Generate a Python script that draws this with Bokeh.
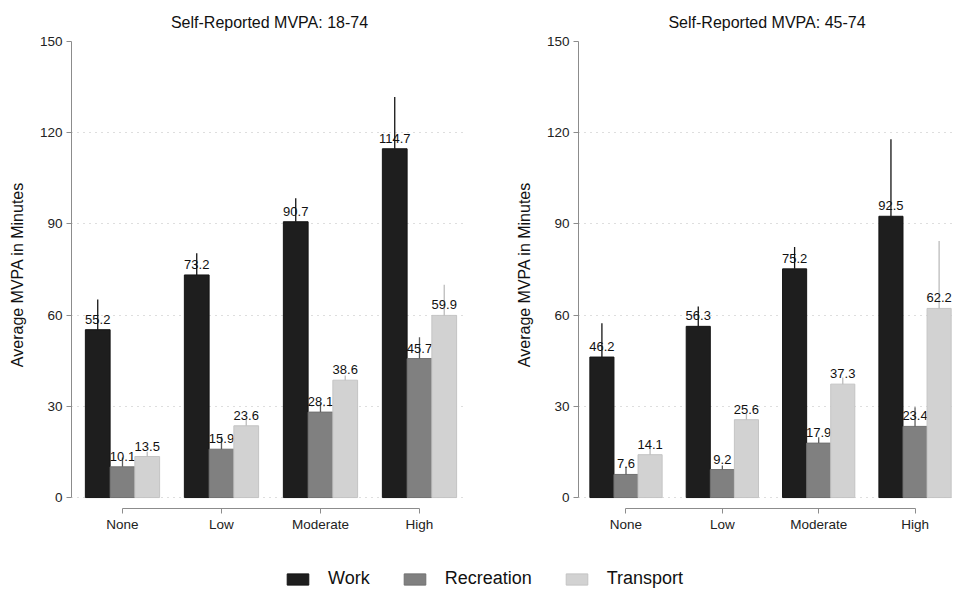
from bokeh.plotting import figure
from bokeh.models import FixedTicker, Range1d, Legend, LegendItem, ColumnDataSource
from bokeh.layouts import column, row
from bokeh.embed import file_html
from bokeh.resources import INLINE

FONT = "Liberation Sans"

categories = ["None", "Low", "Moderate", "High"]
series = ["Work", "Recreation", "Transport"]
fill_colors = ["#1e1e1e", "#808080", "#d2d2d2"]
line_colors = ["#141414", "#707070", "#c4c4c4"]
err_colors = ["#141414", "#5e5e5e", "#bcbcbc"]
y_ticks = [0, 30, 60, 90, 120, 150]

# Panel 1: 18-74
work_1874 = [55.2, 73.2, 90.7, 114.7]
rec_1874 = [10.1, 15.9, 28.1, 45.7]
trans_1874 = [13.5, 23.6, 38.6, 59.9]
work_1874_upper = [65.1, 80.3, 98.4, 131.7]
rec_1874_upper = [13.2, 20.1, 31.0, 52.7]
trans_1874_upper = [15.1, 26.0, 40.1, 70.0]

# Panel 2: 45-74
work_4574 = [46.2, 56.3, 75.2, 92.5]
rec_4574 = [7.6, 9.2, 17.9, 23.4]
trans_4574 = [14.1, 25.6, 37.3, 62.2]
work_4574_upper = [57.3, 62.8, 82.4, 117.8]
rec_4574_upper = [10.0, 10.5, 19.8, 29.7]
trans_4574_upper = [16.1, 27.6, 39.5, 84.4]

offsets = [-0.25, 0.0, 0.25]
bar_w = 0.25


def make_panel(title, vals, uppers, x_start, x_end, width, mbl, mbr):
    p = figure(width=width, height=545, output_backend="svg", toolbar_location=None,
               x_range=Range1d(x_start, x_end), y_range=Range1d(-3.6, 150.3),
               min_border_left=mbl, min_border_right=mbr, min_border_top=40,
               min_border_bottom=37, title=title)
    p.title.text_font = FONT
    p.title.text_font_size = "16px"
    p.title.text_font_style = "normal"
    p.title.align = "center"
    p.title.text_color = "#111111"
    p.title.standoff = 20
    p.outline_line_color = None
    p.background_fill_color = "white"
    p.border_fill_color = "white"

    xs = list(range(1, len(categories) + 1))
    for i, (v, u) in enumerate(zip(vals, uppers)):
        x = [xx + offsets[i] for xx in xs]
        src = ColumnDataSource(dict(x=x, top=v, upper=u,
                                    lab=[f"{t:.1f}" for t in v]))
        p.vbar(x="x", top="top", bottom=0, width=bar_w, source=src,
               fill_color=fill_colors[i], line_color=line_colors[i], line_width=1)
        p.segment(x0="x", y0="top", x1="x", y1="upper", source=src,
                  line_color=err_colors[i], line_width=1.3)
        p.text(x="x", y="top", text="lab", source=src, text_align="center",
               text_baseline="bottom", y_offset=-6, text_font_size="13px",
               text_font={"value": FONT}, text_color="#111111")

    p.xgrid.visible = False
    p.ygrid.ticker = FixedTicker(ticks=y_ticks[:-1])
    p.ygrid.grid_line_color = "#bdbdbd"
    p.ygrid.grid_line_dash = "1 5"
    p.ygrid.grid_line_width = 1

    ya = p.yaxis[0]
    ya.ticker = FixedTicker(ticks=y_ticks)
    ya.bounds = (0, 150)
    ya.axis_line_color = "#8c8c8c"
    ya.major_tick_line_color = "#8c8c8c"
    ya.major_tick_in = 0
    ya.major_tick_out = 5
    ya.minor_tick_line_color = None
    ya.major_label_text_font = FONT
    ya.major_label_text_font_size = "13.5px"
    ya.major_label_text_color = "#222222"
    ya.major_label_standoff = 4
    ya.axis_label = "Average MVPA in Minutes"
    ya.axis_label_text_font = FONT
    ya.axis_label_text_font_size = "16px"
    ya.axis_label_text_font_style = "normal"
    ya.axis_label_text_color = "#111111"
    ya.axis_label_standoff = 11

    xa = p.xaxis[0]
    xa.ticker = FixedTicker(ticks=xs)
    xa.major_label_overrides = {x: c for x, c in zip(xs, categories)}
    xa.bounds = (1, len(categories))
    xa.axis_line_color = "#8c8c8c"
    xa.major_tick_line_color = "#8c8c8c"
    xa.major_tick_in = 0
    xa.major_tick_out = 5
    xa.minor_tick_line_color = None
    xa.major_label_text_font = FONT
    xa.major_label_text_font_size = "13.5px"
    xa.major_label_text_color = "#222222"
    xa.major_label_standoff = 3
    return p


p1 = make_panel("Self-Reported MVPA: 18-74",
                [work_1874, rec_1874, trans_1874],
                [work_1874_upper, rec_1874_upper, trans_1874_upper],
                0.485, 4.485, 510, 71, 43)
p2 = make_panel("Self-Reported MVPA: 45-74",
                [work_4574, rec_4574, trans_4574],
                [work_4574_upper, rec_4574_upper, trans_4574_upper],
                0.507, 4.42, 445, 68, 0)

p3 = figure(width=955, height=45, output_backend="svg", toolbar_location=None,
            x_range=Range1d(0, 1), y_range=Range1d(0, 1), min_border=0)
p3.axis.visible = False
p3.grid.visible = False
p3.outline_line_color = None
items = []
for s, fc, lc in zip(series, fill_colors, line_colors):
    r = p3.vbar(x=[float("nan")], top=[float("nan")], width=0.1,
                fill_color=fc, line_color=lc)
    items.append(LegendItem(label=s, renderers=[r]))
leg = Legend(items=items, orientation="horizontal", location=(284, 1),
             glyph_width=27, glyph_height=14, label_standoff=17, spacing=31,
             padding=0, margin=0, border_line_color=None, background_fill_alpha=0,
             label_text_font=FONT, label_text_font_size="18px",
             label_text_color="#111111", label_height=18)
p3.add_layout(leg)

layout = column(row(p1, p2), p3)
open("out.html", "w").write(file_html(layout, INLINE))
